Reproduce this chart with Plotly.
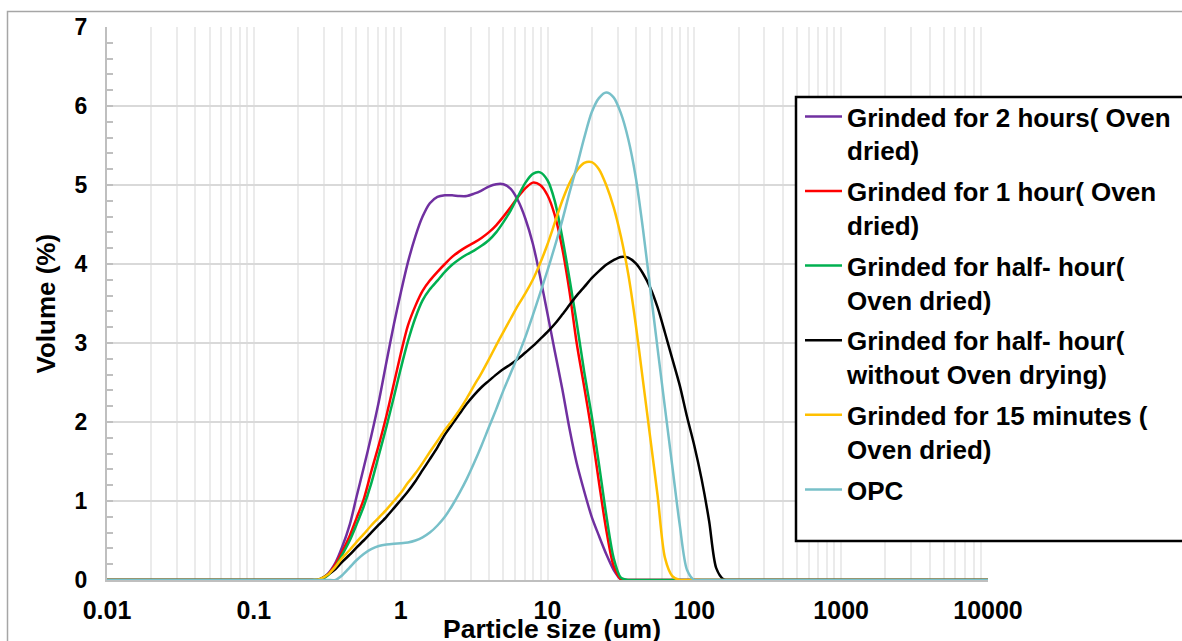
import plotly.graph_objects as go

# ---------------- data ----------------
# particle size bins (um)
x_bins = [0.01, 0.2, 0.25, 0.28, 0.32, 0.36, 0.4, 0.45, 0.5, 0.56, 0.63, 0.71, 0.8, 0.9,
          1.0, 1.12, 1.26, 1.41, 1.58, 1.78, 2.0, 2.24, 2.51, 2.82, 3.16, 3.55, 3.98, 4.47,
          5.01, 5.62, 6.31, 7.08, 7.94, 8.91, 10.0, 11.2, 12.6, 14.1, 15.8, 17.8, 20.0, 22.4,
          25.1, 28.2, 31.6, 35.5, 39.8, 44.7, 50.1, 56.2, 63.1, 70.8, 79.4, 89.1, 100, 112,
          126, 141, 158, 178, 200, 10000]

# volume (%) per bin
y_2h = [0, 0, 0, 0, 0.08, 0.22, 0.42, 0.7, 1.05, 1.42, 1.82, 2.26, 2.76, 3.24,
        3.63, 4.02, 4.35, 4.6, 4.77, 4.85, 4.87, 4.87, 4.86, 4.86, 4.89, 4.93, 4.98, 5.01,
        5.01, 4.95, 4.8, 4.57, 4.26, 3.84, 3.37, 2.9, 2.42, 1.92, 1.48, 1.12, 0.8, 0.56,
        0.33, 0.13, 0.01, 0, 0, 0, 0, 0, 0, 0, 0, 0, 0, 0,
        0, 0, 0, 0, 0, 0]

y_1h = [0, 0, 0, 0, 0.07, 0.2, 0.36, 0.56, 0.78, 1.02, 1.37, 1.71, 2.08, 2.49,
        2.86, 3.22, 3.47, 3.66, 3.79, 3.9, 4.0, 4.09, 4.16, 4.22, 4.27, 4.33, 4.4, 4.49,
        4.6, 4.72, 4.85, 4.96, 5.03, 5.0, 4.87, 4.62, 4.2, 3.66, 3.0, 2.44, 1.87, 1.24,
        0.64, 0.18, 0.01, 0, 0, 0, 0, 0, 0, 0, 0, 0, 0, 0,
        0, 0, 0, 0, 0, 0]

y_half = [0, 0, 0, 0, 0.06, 0.17, 0.32, 0.5, 0.7, 0.93, 1.22, 1.58, 1.94, 2.32,
          2.67, 3.02, 3.32, 3.54, 3.68, 3.79, 3.9, 3.99, 4.06, 4.12, 4.17, 4.23, 4.3, 4.4,
          4.53, 4.68, 4.86, 5.03, 5.14, 5.16, 5.06, 4.8, 4.34, 3.82, 3.26, 2.63, 2.08, 1.47,
          0.83, 0.28, 0.03, 0, 0, 0, 0, 0, 0, 0, 0, 0, 0, 0,
          0, 0, 0, 0, 0, 0]

y_half_nd = [0, 0, 0, 0.01, 0.07, 0.14, 0.23, 0.32, 0.41, 0.5, 0.6, 0.7, 0.8, 0.91,
             1.01, 1.12, 1.25, 1.39, 1.53, 1.68, 1.84, 1.97, 2.1, 2.23, 2.34, 2.44, 2.52, 2.6,
             2.67, 2.73, 2.8, 2.88, 2.96, 3.05, 3.14, 3.24, 3.36, 3.48, 3.6, 3.71, 3.82, 3.91,
             3.99, 4.05, 4.09, 4.08, 4.01, 3.88, 3.7, 3.45, 3.13, 2.8, 2.47, 2.07, 1.7, 1.28,
             0.75, 0.15, 0.01, 0, 0, 0]

y_15m = [0, 0, 0, 0.01, 0.07, 0.17, 0.28, 0.38, 0.48, 0.58, 0.69, 0.79, 0.89, 1.0,
         1.1, 1.23, 1.35, 1.48, 1.62, 1.76, 1.9, 2.02, 2.15, 2.3, 2.46, 2.62, 2.79, 2.97,
         3.14, 3.31, 3.48, 3.63, 3.8, 4.01, 4.25, 4.52, 4.8, 5.02, 5.18, 5.28, 5.29, 5.2,
         5.0, 4.72, 4.35, 3.87, 3.25, 2.52, 1.8, 1.07, 0.28, 0.05, 0, 0, 0, 0,
         0, 0, 0, 0, 0, 0]

y_opc = [0, 0, 0, 0, 0, 0, 0.06, 0.16, 0.25, 0.33, 0.39, 0.43, 0.45, 0.46,
         0.465, 0.475, 0.5, 0.54, 0.6, 0.69, 0.8, 0.94, 1.1, 1.28, 1.48, 1.7, 1.93, 2.16,
         2.4, 2.62, 2.84, 3.08, 3.35, 3.63, 3.92, 4.22, 4.55, 4.9, 5.23, 5.6, 5.92, 6.1,
         6.17, 6.11, 5.91, 5.58, 5.11, 4.44, 3.69, 2.93, 2.18, 1.44, 0.71, 0.13, 0, 0,
         0, 0, 0, 0, 0, 0]

names = [
    "Grinded for 2 hours( Oven<br>dried)",
    "Grinded for 1 hour( Oven<br>dried)",
    "Grinded for half- hour(<br>Oven dried)",
    "Grinded for half- hour(<br>without Oven drying)",
    "Grinded for 15 minutes (<br>Oven dried)",
    "OPC",
]
colors = ["#7030A0", "#FF0000", "#00B050", "#000000", "#FFC000", "#78C0C9"]
ys = [y_2h, y_1h, y_half, y_half_nd, y_15m, y_opc]

x_tickvals = [0.01, 0.1, 1, 10, 100, 1000, 10000]
x_ticktext = ["0.01", "0.1", "1", "10", "100", "1000", "10000"]
x_title = "Particle size (um)"
y_title = "Volume (%)"

# ---------------- layout geometry (pixels) ----------------
W, H = 1182, 641
L, R, T, B = 107, 988, 27, 580
pw, ph = R - L, B - T


def px_x(px):
    return (px - L) / pw


def px_y(py):
    return (B - py) / ph


FONT = "Liberation Sans, Arial, sans-serif"

fig = go.Figure()
for i in range(len(names)):
    fig.add_trace(go.Scatter(
        x=x_bins, y=ys[i], name=names[i], mode="lines",
        line=dict(color=colors[i], width=2.5, shape="spline", smoothing=0.8),
        legendgroup=str(i),
    ))

fig.update_layout(
    width=W, height=H,
    margin=dict(l=L, r=W - R, t=T, b=H - B, autoexpand=False),
    paper_bgcolor="white", plot_bgcolor="white",
    font=dict(family=FONT, color="black"),
    showlegend=True,
    legend=dict(
        x=px_x(800), y=px_y(93), xanchor="left", yanchor="top",
        bgcolor="rgba(0,0,0,0)", borderwidth=0,
        font=dict(family=FONT, size=26, color="black", weight="bold"),
        valign="top", tracegroupgap=4, itemwidth=37,
    ),
    xaxis=dict(
        type="log", range=[-2, 4],
        tickvals=x_tickvals, ticktext=x_ticktext,
        tickfont=dict(family=FONT, size=25, color="black", weight="bold"),
        showgrid=True, gridcolor="#ebebeb", gridwidth=1.5,
        minor=dict(dtick="D1", showgrid=True, gridcolor="#ebebeb", gridwidth=1.5, ticks=""),
        showline=True, linecolor="#bfbfbf", linewidth=2,
        ticks="", ticklabelstandoff=7,
        automargin=False,
    ),
    yaxis=dict(
        range=[0, 7], dtick=1, tick0=0,
        tickfont=dict(family=FONT, size=23, color="black", weight="bold"),
        showgrid=True, gridcolor="#d9d9d9", gridwidth=1.5,
        zeroline=False,
        showline=True, linecolor="#bfbfbf", linewidth=2,
        ticks="inside", ticklen=6, tickcolor="#bfbfbf", tickwidth=1.5,
        minor=dict(dtick=0.2, ticks="inside", ticklen=6, tickcolor="#bfbfbf", tickwidth=1.5, showgrid=False),
        ticklabelstandoff=13,
        automargin=False,
    ),
    annotations=[
        dict(text=x_title, xref="paper", yref="paper", x=px_x(552), y=px_y(612),
             xanchor="center", yanchor="top", showarrow=False,
             font=dict(family=FONT, size=26.5, color="black", weight="bold")),
        dict(text=y_title, xref="paper", yref="paper", x=px_x(45), y=0.5,
             xanchor="center", yanchor="middle", showarrow=False, textangle=-90,
             font=dict(family=FONT, size=26, color="black", weight="bold")),
    ],
    shapes=[
        # outer chart frame
        dict(type="rect", xref="paper", yref="paper",
             x0=px_x(7.5), x1=px_x(1300), y0=px_y(11.5), y1=px_y(700),
             line=dict(color="#a6a6a6", width=1.5), fillcolor="rgba(0,0,0,0)", layer="below"),
        # legend box
        dict(type="rect", xref="paper", yref="paper",
             x0=px_x(796), x1=px_x(1300), y0=px_y(97), y1=px_y(541),
             line=dict(color="black", width=2.5), fillcolor="white", layer="above"),
    ],
)

fig.write_html("out.html")
